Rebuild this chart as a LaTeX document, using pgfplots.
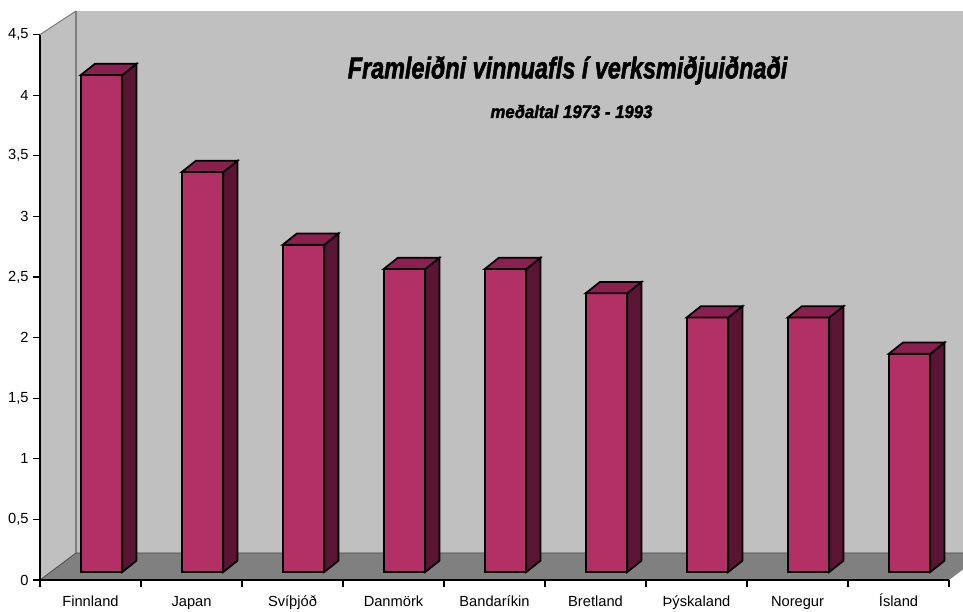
\documentclass[border=0pt]{standalone}
\usepackage{graphicx}
\usepackage{pgfplots}
\usepackage{pgfplotstable}
\pgfplotsset{compat=1.18}
\usepackage{fontspec}
\setmainfont{Liberation Sans}
\newfontfamily\titlefont{Liberation Sans}[BoldItalicFeatures={FakeBold=2}]

\definecolor{wallgray}{HTML}{C0C0C0}
\definecolor{floorgray}{HTML}{808080}
\definecolor{barfront}{HTML}{B23066}
\definecolor{bartop}{HTML}{8A2050}
\definecolor{barside}{HTML}{5A1434}
\pgfdeclareplotmark{nothing}{}

% framleidni vinnuafls, medaltal 1973-1993
\pgfplotstableread{
x y
0 4.1
1 3.3
2 2.7
3 2.5
4 2.5
5 2.3
6 2.1
7 2.1
8 1.8
}\framleidni

\begin{document}
\begin{tikzpicture}
\begin{axis}[
  x=75.75pt, y=90.9pt,
  xmin=-0.5, xmax=8.5, ymin=0, ymax=4.5,
  clip=false, axis on top,
  axis lines*=left,
  axis line style={black, line width=0.8pt, -},
  tick style={black, line width=0.8pt},
  tick align=outside,
  major tick length=5pt,
  xtick={-0.5,0.5,1.5,2.5,3.5,4.5,5.5,6.5,7.5,8.5},
  x tick label as interval,
  xticklabels={Finnland,Japan,Svíþjóð,Danmörk,Bandaríkin,Bretland,Þýskaland,Noregur,Ísland},
  xticklabel style={text height=8pt, yshift=-3.5pt},
  ytick={0,0.5,1,1.5,2,2.5,3,3.5,4,4.5},
  yticklabel style={/pgf/number format/.cd, use comma, fixed, precision=1},
  /pgf/number format/assume math mode=true,
  tick label style={font=\fontsize{11}{13}\selectfont},
]
% veggir og golf
\fill[wallgray] (axis cs:-0.5,0) -- (axis cs:-0.5,4.5) -- (axis cs:-0.1436,4.6947) -- (axis cs:-0.1436,0.2228) -- cycle;
\fill[wallgray] (axis cs:-0.1436,0.2228) rectangle (axis cs:8.6386,4.6947);
\fill[floorgray] (axis cs:-0.5,0) -- (axis cs:8.5,0) -- (axis cs:8.6386,0.0866) -- (axis cs:8.6386,0.2228) -- (axis cs:-0.1436,0.2228) -- cycle;
\draw[floorgray, line width=1.2pt] (axis cs:-0.1436,0.2228) -- (axis cs:-0.1436,4.6947);
\draw[floorgray, line width=0.8pt] (axis cs:-0.5,4.5) -- (axis cs:-0.1436,4.6947);
\draw[black!70, line width=0.6pt] (axis cs:-0.5,0) -- (axis cs:-0.1436,0.2228) -- (axis cs:8.6386,0.2228);

\addplot[scatter, only marks, mark=nothing,
  visualization depends on={rawy \as \barval},
  scatter/@pre marker code/.code={%
    \pgfmathsetmacro\bh{\barval*90.9}%
    \begin{scope}[x=1pt, y=1pt, line width=1.3pt, draw=black, line join=miter]
      \filldraw[fill=barfront] (-7.35,{6-\bh}) rectangle (23.85,6);
      \filldraw[fill=barside] (23.85,6) -- (34.55,14.5) -- (34.55,{14.5-\bh}) -- (23.85,{6-\bh}) -- cycle;
      \filldraw[fill=bartop] (-7.35,6) -- (23.85,6) -- (34.55,14.5) -- (3.35,14.5) -- cycle;
    \end{scope}
  },
  scatter/@post marker code/.code={},
] table[x=x, y=y] {\framleidni};

\node[anchor=base, font=\titlefont\fontsize{22.5}{26}\selectfont\bfseries\itshape] at (axis cs:4.723,4.139)
  {\scalebox{0.78}[1]{Framleiðni vinnuafls í verksmiðjuiðnaði}};
\node[anchor=base, font=\titlefont\fontsize{13.5}{16}\selectfont\bfseries\itshape] at (axis cs:4.762,3.812)
  {\scalebox{0.93}[1]{meðaltal 1973 - 1993}};

\coordinate (bbsw) at (axis cs:-0.896,-0.2558);
\coordinate (bbne) at (axis cs:8.6386,4.7855);
\end{axis}
\pgfresetboundingbox
\useasboundingbox (bbsw) rectangle (bbne);
\end{tikzpicture}
\end{document}
